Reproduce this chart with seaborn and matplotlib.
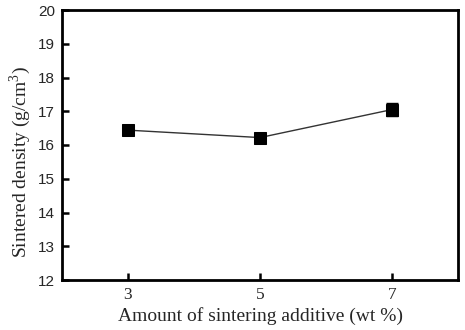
import matplotlib
matplotlib.use("Agg")
import matplotlib.pyplot as plt
import seaborn as sns
import pandas as pd

# Sintered density versus amount of sintering additive
additive_wt = [3, 5, 7]
density = [16.44, 16.22, 17.05]
density_err = [0.08, 0.06, 0.20]

df = pd.DataFrame({"additive": additive_wt, "density": density, "err": density_err})

sns.set_style("ticks")
plt.rcParams["mathtext.fontset"] = "custom"
plt.rcParams["mathtext.rm"] = "Liberation Serif"

fig = plt.figure(figsize=(4.65, 3.3), dpi=100)
ax = fig.add_axes([62 / 465, 50 / 330, 396 / 465, 270 / 330])

ax.errorbar(df["additive"], df["density"], yerr=df["err"], fmt="none",
            ecolor="black", elinewidth=1.0, capsize=4, capthick=1.0, zorder=2)
sns.lineplot(data=df, x="additive", y="density", ax=ax, color="#333333",
             linewidth=1.0, marker="s", markersize=9, markerfacecolor="black",
             markeredgecolor="black", zorder=3)

ax.set_xlim(2, 8)
ax.set_ylim(12, 20)
ax.set_xticks([3, 5, 7])
ax.set_yticks(range(12, 21))

for side in ["left", "right", "top", "bottom"]:
    ax.spines[side].set_visible(True)
    ax.spines[side].set_linewidth(2.0)
    ax.spines[side].set_color("black")

ax.tick_params(axis="both", direction="in", length=5, width=1.8, color="black")
ax.tick_params(axis="x", pad=5)
ax.tick_params(axis="y", pad=5)
for lbl in ax.get_yticklabels():
    lbl.set_fontfamily("Liberation Sans")
    lbl.set_fontsize(11)
for lbl in ax.get_xticklabels():
    lbl.set_fontfamily("Liberation Serif")
    lbl.set_fontsize(12.5)

ax.set_xlabel("Amount of sintering additive (wt %)", fontfamily="Liberation Serif",
              fontsize=14, labelpad=3)
ax.set_ylabel("Sintered density (g/cm$^3$)", fontfamily="Liberation Serif",
              fontsize=14)
ax.yaxis.set_label_coords(-0.072, 0.437)

fig.savefig("out.png", dpi=100)
